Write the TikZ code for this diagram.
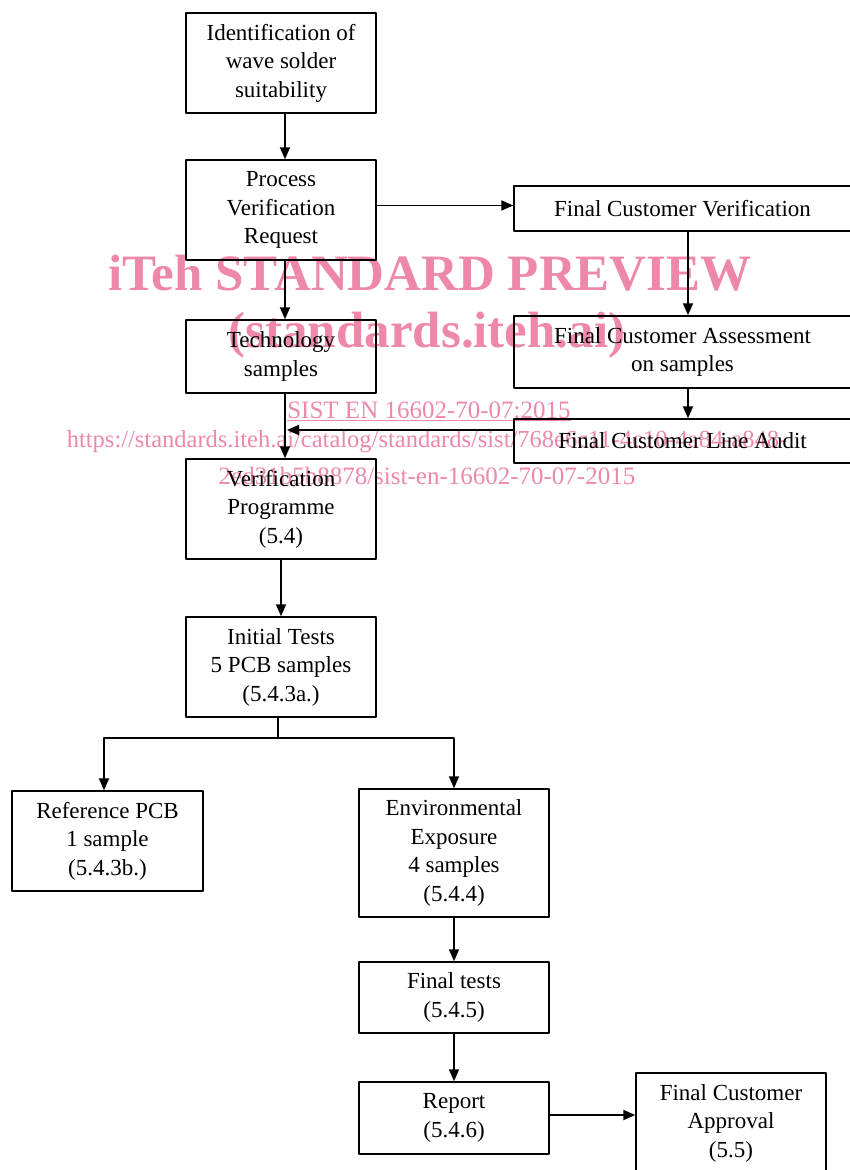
\documentclass[tikz,border=0pt]{standalone}
\usepackage{fontspec}
\setmainfont{Liberation Serif}
\usetikzlibrary{arrows.meta}
\definecolor{wmpink}{RGB}{238,136,168}

\begin{document}
\begin{tikzpicture}[x = 1pt, y = -1pt, line join = round,
        box/.style={draw, line width = 1.5pt, align = center, inner sep = 0pt, font = \fontsize{23}{28.5}\selectfont},
        flow/.style={line width = 1.8pt, -{Triangle[length = 12pt, width = 10pt]}},
        wmark/.style={text = wmpink, inner sep = 0pt}]
        %
        \def\BoxW{190pt}
        \def\WideW{337pt}
        %
        \useasboundingbox (0, 0) rectangle (850, 1170);

        % watermark
        \node [wmark, font = \fontsize{51}{51}\selectfont\bfseries] (wmtitle) at (430, 273) {iTeh STANDARD PREVIEW};
        \node [wmark, font = \fontsize{51}{51}\selectfont\bfseries] (wmsite) at (427, 335) {(standards.iteh.ai)};
        \node [wmark, font = \fontsize{25}{25}\selectfont] (wmcode) at (429, 411) {\underline{SIST EN 16602-70-07:2015}};
        \node [wmark, font = \fontsize{24.5}{25}\selectfont] (wmurla) at (427, 442) {https://standards.iteh.ai/catalog/standards/sist/768e6c11-4c10-4a84-a848-};
        \node [wmark, font = \fontsize{25}{25}\selectfont] (wmurlb) at (427, 476) {2ed31b5b8878/sist-en-16602-70-07-2015};

        % main column
        \node [box, minimum width = \BoxW, minimum height = 100pt] (ident) at (281, 63) {Identification of\\wave solder\\suitability};
        \node [box, minimum width = \BoxW, minimum height = 100pt] (pvr) at (281, 210) {Process\\Verification\\Request};
        \node [box, minimum width = \BoxW, minimum height = 73pt] (tech) at (281, 356.5) {Technology\\samples};
        \node [box, minimum width = \BoxW, minimum height = 100pt] (verif) at (281, 509) {Verification\\Programme\\(5.4)};
        \node [box, minimum width = \BoxW, minimum height = 100pt] (init) at (281, 667) {Initial Tests\\5 PCB samples\\(5.4.3a.)};

        % customer column
        \node [box, minimum width = \WideW, minimum height = 45pt] (fcv) at (682.5, 208.5) {Final Customer Verification};
        \node [box, minimum width = \WideW, minimum height = 72pt] (fca) at (682.5, 352) {Final Customer Assessment\\on samples};
        \node [box, minimum width = \WideW, minimum height = 44pt] (fcla) at (682.5, 441) {Final Customer Line Audit};

        % test branch
        \node [box, minimum width = 191pt, minimum height = 100pt] (ref) at (107.5, 841) {Reference PCB\\1 sample\\(5.4.3b.)};
        \node [box, minimum width = \BoxW, minimum height = 128pt] (env) at (454, 853) {Environmental\\Exposure\\4 samples\\(5.4.4)};
        \node [box, minimum width = \BoxW, minimum height = 71pt] (ftest) at (454, 997.5) {Final tests\\(5.4.5)};
        \node [box, minimum width = \BoxW, minimum height = 72pt] (report) at (454, 1118) {Report\\(5.4.6)};
        \node [box, minimum width = \BoxW, minimum height = 100pt] (appr) at (731, 1123) {Final Customer\\Approval\\(5.5)};

        % connectors
        \draw [flow] ([xshift = 4pt]ident.south) -- ([xshift = 4pt]pvr.north);
        \draw [flow] ([yshift = 3pt]fcv.west -| pvr.east) -- ([yshift = 3pt]fcv.west);
        \draw [flow] ([xshift = 4pt]pvr.south) -- ([xshift = 4pt]tech.north);
        \draw [flow] ([xshift = 4pt]tech.south) coordinate (techfoot) -- ([xshift = 4pt]verif.north);
        \draw [flow] ([yshift = 11pt]fcla.west) -- ([yshift = 11pt, xshift = 2pt]fcla.west -| techfoot);
        \draw [flow] ([xshift = 5.5pt]fcv.south) -- ([xshift = 5.5pt]fca.north);
        \draw [flow] ([xshift = 5.5pt]fca.south) -- ([xshift = 5.5pt]fcla.north);
        \draw [flow] (verif) -- (init);
        \draw [line width = 1.5pt] ([xshift = -3pt]init.south) -- ++(0, 20) coordinate (split);
        \draw [flow] (split) -| ([xshift = -3.5pt]ref.north);
        \draw [flow] (split) -| (env.north);
        \draw [flow] (env) -- (ftest);
        \draw [flow] (ftest) -- (report);
        \draw [flow] ([yshift = 3pt]report.east) -- ([yshift = 3pt]report.east -| appr.west);
\end{tikzpicture}
\end{document}
